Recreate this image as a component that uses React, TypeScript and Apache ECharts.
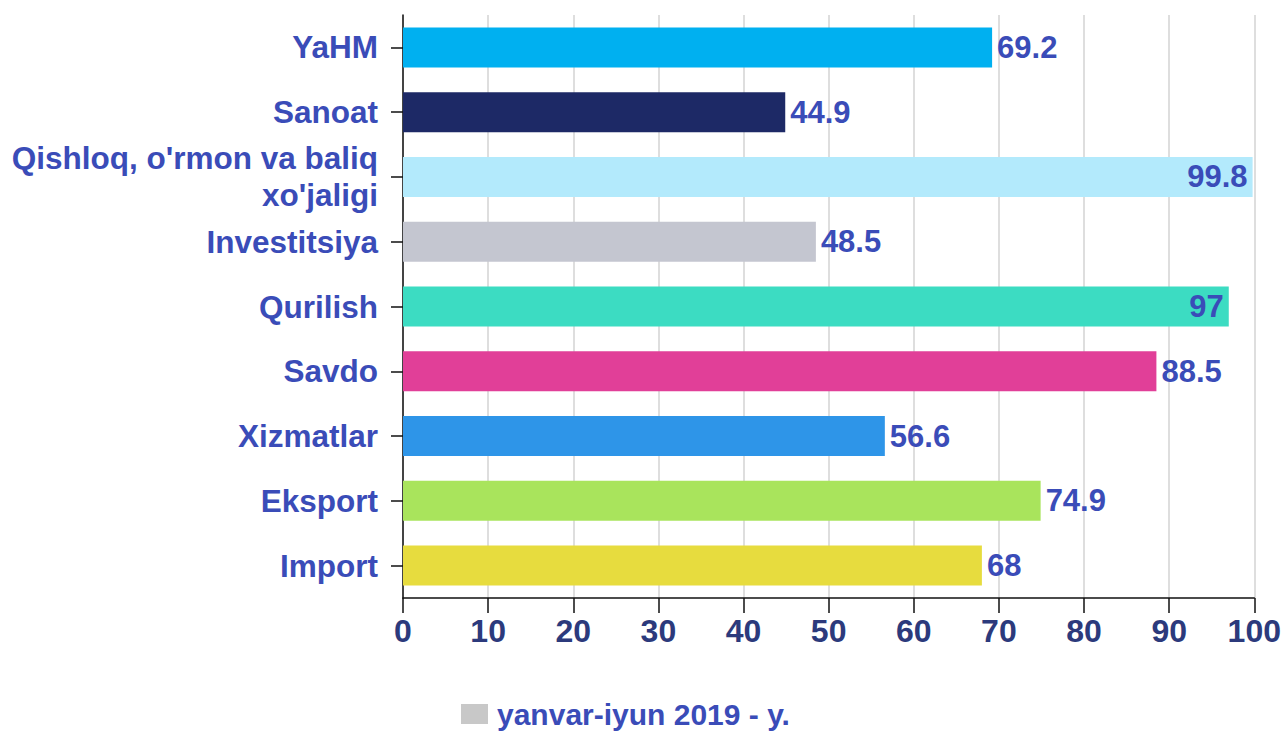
import React, { useEffect, useRef } from "react";
import * as echarts from "echarts";

const categories = [
  "YaHM",
  "Sanoat",
  "Qishloq, o'rmon va baliq\nxo'jaligi",
  "Investitsiya",
  "Qurilish",
  "Savdo",
  "Xizmatlar",
  "Eksport",
  "Import",
];
const values = [69.2, 44.9, 99.8, 48.5, 97, 88.5, 56.6, 74.9, 68];
const barColors = [
  "#00b0f0",
  "#1d2966",
  "#b3eafc",
  "#c4c6d0",
  "#3cdcc2",
  "#e13f98",
  "#2e95e8",
  "#a9e45c",
  "#e7dc3e",
];
const insideLabels = [false, false, true, false, true, false, false, false, false];
const seriesName = "yanvar-iyun 2019 - y.";
const xTicks = { min: 0, max: 100, interval: 10 };

const FONT = "'Liberation Sans', Arial, sans-serif";
const BLUE = "#3a4cb8";
const NAVY = "#2c3a7c";

export default function App() {
  const ref = useRef<HTMLDivElement>(null);
  useEffect(() => {
    if (!ref.current) return;
    const chart = echarts.init(ref.current, undefined, { renderer: "svg" });
    chart.setOption({
      animation: false,
      grid: { left: 403, right: 29, top: 15, bottom: 133, containLabel: false },
      legend: {
        data: [seriesName],
        left: 461,
        top: 699,
        padding: 0,
        itemWidth: 27,
        itemHeight: 20,
        icon: "rect",
        textStyle: {
          fontFamily: FONT,
          fontWeight: "bold",
          fontSize: 30,
          color: BLUE,
          padding: [0, 0, 0, 4],
        },
      },
      xAxis: {
        type: "value",
        min: xTicks.min,
        max: xTicks.max,
        interval: xTicks.interval,
        axisLine: { show: true, lineStyle: { color: "#111", width: 1.5 } },
        axisTick: { show: true, length: 15, lineStyle: { color: "#111", width: 1.5 } },
        axisLabel: {
          margin: 17,
          fontFamily: FONT,
          fontWeight: "bold",
          fontSize: 32,
          color: NAVY,
        },
        splitLine: { show: true, lineStyle: { color: "#d3d3d3", width: 1.5 } },
      },
      yAxis: {
        type: "category",
        inverse: true,
        data: categories,
        axisLine: { show: true, lineStyle: { color: "#111", width: 1.5 } },
        axisTick: {
          show: true,
          alignWithLabel: true,
          length: 12,
          lineStyle: { color: "#111", width: 1.5 },
        },
        axisLabel: {
          margin: 25,
          fontFamily: FONT,
          fontWeight: "bold",
          fontSize: 31.5,
          lineHeight: 37,
          color: BLUE,
          align: "right",
        },
      },
      series: [
        {
          name: seriesName,
          type: "bar",
          barWidth: 40,
          itemStyle: { color: "#c8c8c8" },
          data: values.map((v, i) => ({
            value: v,
            itemStyle: { color: barColors[i] },
            label: {
              position: insideLabels[i] ? "insideRight" : "right",
              distance: 5,
            },
          })),
          label: {
            show: true,
            fontFamily: FONT,
            fontWeight: "bold",
            fontSize: 31,
            color: BLUE,
          },
        },
      ],
    });
    return () => chart.dispose();
  }, []);
  return (
    <div
      ref={ref}
      style={{ position: "fixed", left: 0, top: 0, width: 1284, height: 731, background: "#fff" }}
    />
  );
}
